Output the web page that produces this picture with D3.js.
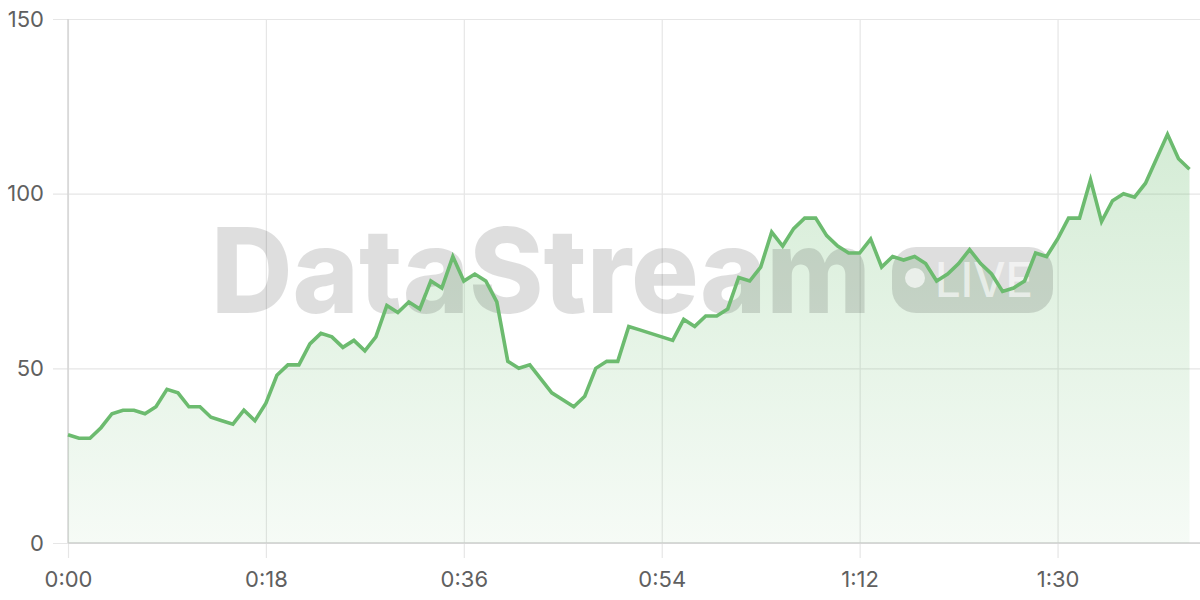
<!DOCTYPE html>
<html>
<head>
<meta charset="utf-8">
<script src="https://cdn.jsdelivr.net/npm/d3@7"></script>
<style>
  html, body { margin: 0; padding: 0; background: #ffffff; }
  svg { display: block; }
</style>
</head>
<body>
<svg id="chart" width="1200" height="600"></svg>
<script>
// ---- data ----
const seconds = d3.range(0, 103); // one sample per second, 0..102
const values = [
  31, 30, 30, 33, 37, 38, 38, 37, 39, 44,
  43, 39, 39, 36, 35, 34, 38, 35, 40, 48,
  51, 51, 57, 60, 59, 56, 58, 55, 59, 68,
  66, 69, 67, 75, 73, 82, 75, 77, 75, 69,
  52, 50, 51, 47, 43, 41, 39, 42, 50, 52,
  52, 62, 61, 60, 59, 58, 64, 62, 65, 65,
  67, 76, 75, 79, 89, 85, 90, 93, 93, 88,
  85, 83, 83, 87, 79, 82, 81, 82, 80, 75,
  77, 80, 84, 80, 77, 72, 73, 75, 83, 82,
  87, 93, 93, 104, 92, 98, 100, 99, 103, 110,
  117, 110, 107
];
const xTicks = [0, 18, 36, 54, 72, 90];
const xTickLabels = ["0:00", "0:18", "0:36", "0:54", "1:12", "1:30"];
const yTicks = [0, 50, 100, 150];
const watermarkText = "DataStream";
const badgeText = "LIVE";

const data = seconds.map((s, i) => ({ t: s, v: values[i] }));

// ---- layout ----
const svg = d3.select("#chart");
const mLeft = 68, mRight = 1189.5, mTop = 19, mBottom = 543;
const x = d3.scaleLinear().domain([0, 102]).range([mLeft, mRight]);
const y = d3.scaleLinear().domain([0, 150]).range([mBottom, mTop]);

const font = "Inter, 'Liberation Sans', 'DejaVu Sans', sans-serif";

// gradient
const defs = svg.append("defs");
const grad = defs.append("linearGradient")
  .attr("id", "areaGrad").attr("gradientUnits", "userSpaceOnUse")
  .attr("x1", 0).attr("x2", 0).attr("y1", y(150)).attr("y2", y(0));
grad.append("stop").attr("offset", "0%").attr("stop-color", "#66bb6a").attr("stop-opacity", 0.34);
grad.append("stop").attr("offset", "100%").attr("stop-color", "#66bb6a").attr("stop-opacity", 0.06);

// grid - horizontal
const gy = svg.append("g")
  .attr("transform", `translate(${mLeft},0)`)
  .call(d3.axisLeft(y).tickValues(yTicks).tickSize(-(1200 - mLeft)).tickSizeOuter(0).tickPadding(24).tickFormat(d3.format("d")));
gy.select(".domain").remove();
gy.selectAll(".tick line").attr("stroke", "#e6e6e6").attr("stroke-width", 1.2).attr("x1", -15);
gy.selectAll(".tick text").attr("fill", "#606060").attr("font-size", 22).attr("font-family", font);

// grid - vertical
const gx = svg.append("g")
  .attr("transform", `translate(0,${mBottom})`)
  .call(d3.axisBottom(x).tickValues(xTicks).tickSize(-(mBottom - mTop)).tickSizeOuter(0).tickPadding(28)
    .tickFormat((d, i) => xTickLabels[i]));
gx.select(".domain").remove();
gx.selectAll(".tick line").attr("stroke", "#e6e6e6").attr("stroke-width", 1.2).attr("y1", 15);
gx.selectAll(".tick text").attr("fill", "#606060").attr("font-size", 22).attr("font-family", font);

// axis lines (slightly darker)
svg.append("line").attr("x1", x(0)).attr("x2", x(0)).attr("y1", y(150)).attr("y2", y(0))
  .attr("stroke", "#d4d4d4").attr("stroke-width", 1.5);
svg.append("line").attr("x1", x(0)).attr("x2", 1200).attr("y1", y(0)).attr("y2", y(0))
  .attr("stroke", "#d0d0d0").attr("stroke-width", 1.5);

// area
const area = d3.area().x(d => x(d.t)).y0(y(0)).y1(d => y(d.v));
svg.append("path").datum(data).attr("d", area).attr("fill", "url(#areaGrad)");

// watermark
const wm = svg.append("g").attr("pointer-events", "none");
wm.append("text")
  .attr("x", 211).attr("y", 313)
  .attr("textLength", 660).attr("lengthAdjust", "spacingAndGlyphs")
  .attr("font-family", font).attr("font-weight", 800).attr("font-size", 118)
  .attr("fill", "#000").attr("fill-opacity", 0.13)
  .text(watermarkText);
wm.append("rect")
  .attr("x", 892).attr("y", 247).attr("width", 161).attr("height", 66).attr("rx", 24)
  .attr("fill", "#000").attr("fill-opacity", 0.13);
wm.append("circle").attr("cx", 915).attr("cy", 278).attr("r", 10)
  .attr("fill", "#fff").attr("fill-opacity", 0.65);
wm.append("text")
  .attr("x", 935).attr("y", 297)
  .attr("textLength", 98).attr("lengthAdjust", "spacingAndGlyphs")
  .attr("font-family", font).attr("font-weight", 500).attr("font-size", 48)
  .attr("fill", "#fff").attr("fill-opacity", 0.6)
  .text(badgeText);

// line
const line = d3.line().x(d => x(d.t)).y(d => y(d.v));
svg.append("path").datum(data).attr("d", line)
  .attr("fill", "none").attr("stroke", "#6cbb6f").attr("stroke-width", 3.6)
  .attr("stroke-linejoin", "miter").attr("stroke-miterlimit", 4);
</script>
</body>
</html>
